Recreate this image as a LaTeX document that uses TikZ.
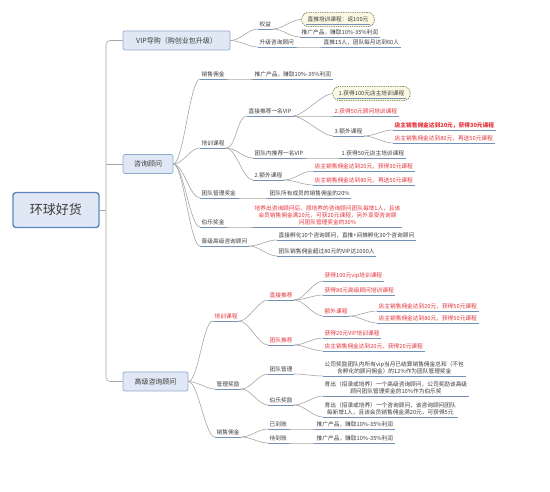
\documentclass[tikz,border=0pt]{standalone}
\usepackage{fontspec}
\setmainfont{Noto Sans CJK SC}
\usetikzlibrary{calc}
\definecolor{boxfill}{HTML}{DFE8F4}
\definecolor{boxline}{HTML}{93ABCB}
\definecolor{rootline}{HTML}{5F86BF}
\definecolor{txtgray}{HTML}{3C3C3C}
\definecolor{hotred}{HTML}{E5323B}
\definecolor{ulblue}{HTML}{7491B8}
\definecolor{linkgray}{HTML}{A6A6A6}
\definecolor{notefill}{HTML}{FBF9E4}
\definecolor{noteline}{HTML}{5D6B3A}
\tikzset{
  link/.style={draw=linkgray,line width=.6pt},
  uline/.style={draw=ulblue,line width=.8pt},
  root/.style={draw=rootline,line width=1.4pt,fill=boxfill,rounded corners=3pt,text=txtgray,
    font=\fontsize{13}{15}\selectfont,minimum width=86pt,minimum height=35pt},
  topic/.style={draw=boxline,line width=.7pt,fill=boxfill,rounded corners=2pt,text=txtgray,
    font=\fontsize{7}{8}\selectfont,minimum height=19pt,inner xsep=4pt},
  item/.style={anchor=south west,inner xsep=1.5pt,inner ysep=1.8pt,text=txtgray,
    font=\fontsize{5.7}{7.2}\selectfont,
    append after command={(\tikzlastnode.south west) edge[uline] (\tikzlastnode.south east)}},
  hot/.style={item,text=hotred},
  note/.style={draw=noteline,line width=.6pt,dash pattern=on 1.3pt off 1pt,fill=notefill,
    rounded corners=7pt,text=txtgray,font=\fontsize{5.7}{7.2}\selectfont,inner xsep=6pt,inner ysep=4.5pt,
    append after command={([shift={(5pt,3pt)}]\tikzlastnode.south west) edge[uline] ([shift={(-5pt,3pt)}]\tikzlastnode.south east)}}
}
\begin{document}
\begin{tikzpicture}[x=1pt,y=-1pt]
\fill[white] (0,0) rectangle (550,492);
\useasboundingbox (0,0) rectangle (550,492);
\node[root] (root) at (56,210) {环球好货};
\node[topic,minimum width=107pt] (vip) at (176.5,40.5) {VIP导购（购创业包升级）};
\node[topic,minimum width=50pt] (zx) at (148,164) {咨询顾问};
\node[topic,minimum width=65pt] (gj) at (155.5,381.5) {高级咨询顾问};
\coordinate (hub) at (106,210);
\draw[link] (root.east) -- (hub);
\draw[link,rounded corners=4pt] (vip.west) -| (hub) |- (gj.west);
\draw[link] (hub |- zx.west) -- (zx.west);

\node[item] (qy) at (258,29) {权益};
\node[item] (sj) at (258,47) {升级咨询顾问};
\node[note] (qy1) at (338,19.5) {直推培训课程：返100元};
\node[item] (qy2) at (300,37) {推广产品，赚取10\%-35\%利润};
\node[item] (sj1) at (322,47) {直推15人，团队每月达到60人};

\node[item] (xs) at (200,79) {销售佣金};
\node[item] (xs1) at (253,79) {推广产品，赚取10\%-35\%利润};
\node[item] (px) at (200,148) {培训课程};
\node[item] (zt) at (247,116) {直接推荐一名VIP};
\node[note] (zt1) at (371.5,93.5) {1.获得100元店主培训课程};
\node[hot] (zt2) at (333,116) {2.获得50元顾问培训课程};
\node[item] (zt3) at (333,136) {3.额外课程};
\node[hot,font=\fontsize{5.7}{7.2}\selectfont\bfseries] (zt31) at (393,130) {店主销售佣金达到20元，获得30元课程};
\node[hot] (zt32) at (393,143) {店主销售佣金达到80元，再送50元课程};
\node[item] (tn) at (253,158) {团队内推荐一名VIP};
\node[item] (tn1) at (340,158) {1.获得50元店主培训课程};
\node[item] (ew) at (253,180) {2.额外课程};
\node[hot] (ew1) at (313,171) {店主销售佣金达到20元，获得30元课程};
\node[hot] (ew2) at (313,185) {店主销售佣金达到80元，再送50元课程};
\node[item] (gl) at (200,198) {团队管理奖金};
\node[item] (gl1) at (268,198) {团队所有成员的销售佣金的20\%};
\node[item] (bl) at (200,227) {伯乐奖金};
\node[hot,align=center] (bl1) at (253,227) {培养出咨询顾问后，原培养的咨询顾问团队每增1人，且该\\会员销售佣金满20元，可获20元课程，另外享受咨询顾\\问团队管理奖金的30\%};
\node[item] (jj) at (200,246) {晋级高级咨询顾问};
\node[item] (jj1) at (277,240) {直接孵化10个咨询顾问，直推+间推孵化30个咨询顾问};
\node[item] (jj2) at (277,256) {团队销售佣金超过80元的VIP达1000人};

\node[hot] (apx) at (213,321) {培训课程};
\node[hot] (azt) at (268,300) {直接推荐};
\node[hot] (azt1) at (323,281) {获得100元vip培训课程};
\node[hot] (azt2) at (323,295) {获得80元高级顾问培训课程};
\node[hot] (azt3) at (323,316) {额外课程};
\node[hot] (azt31) at (377,311) {店主销售佣金达到20元，获得50元课程};
\node[hot] (azt32) at (377,323) {店主销售佣金达到80元，获得50元课程};
\node[hot] (atd) at (268,345) {团队推荐};
\node[hot] (atd1) at (323,338) {获得20元VIP培训课程};
\node[hot] (atd2) at (323,351) {店主销售佣金达到20元，获得20元课程};
\node[item] (agl) at (215,389) {管理奖励};
\node[item] (agl1) at (268,374) {团队管理};
\node[item,align=center] (agl11) at (323,376) {公司奖励团队内所有vip当月已结算销售佣金总和（不包\\含孵化的顾问佣金）的12\%作为团队管理奖金};
\node[item] (abl) at (268,405) {伯乐奖励};
\node[item,align=center] (abl1) at (323,396) {育出（招录或培养）一个高级咨询顾问，公司奖励该高级\\顾问团队管理奖金的10\%作为伯乐奖};
\node[item,align=center] (abl2) at (323,417) {育出（招录或培养）一个咨询顾问，该咨询顾问团队\\每新增1人，且该会员销售佣金满20元，可获得5元};
\node[item] (axs) at (215,437) {销售佣金};
\node[item] (ydz) at (268,429) {已到账};
\node[item] (ydz1) at (315,429) {推广产品，赚取10\%-35\%利润};
\node[item] (ddz) at (268,443) {待到账};
\node[item] (ddz1) at (315,443) {推广产品，赚取10\%-35\%利润};

\foreach \a/\b in {vip.east/qy.south west,vip.east/sj.south west,
  qy.south east/qy1.west,qy.south east/qy2.south west,sj.south east/sj1.south west,
  zx.east/xs.south west,zx.east/px.south west,zx.east/gl.south west,zx.east/bl.south west,zx.east/jj.south west,
  xs.south east/xs1.south west,
  px.south east/zt.south west,px.south east/tn.south west,px.south east/ew.south west,
  zt.south east/zt1.west,zt.south east/zt2.south west,zt.south east/zt3.south west,
  zt3.south east/zt31.south west,zt3.south east/zt32.south west,
  tn.south east/tn1.south west,ew.south east/ew1.south west,ew.south east/ew2.south west,
  gl.south east/gl1.south west,bl.south east/bl1.south west,
  jj.south east/jj1.south west,jj.south east/jj2.south west,
  gj.east/apx.south west,gj.east/agl.south west,gj.east/axs.south west,
  apx.south east/azt.south west,apx.south east/atd.south west,
  azt.south east/azt1.south west,azt.south east/azt2.south west,azt.south east/azt3.south west,
  azt3.south east/azt31.south west,azt3.south east/azt32.south west,
  atd.south east/atd1.south west,atd.south east/atd2.south west,
  agl.south east/agl1.south west,agl.south east/abl.south west,agl1.south east/agl11.south west,
  abl.south east/abl1.south west,abl.south east/abl2.south west,
  axs.south east/ydz.south west,axs.south east/ddz.south west,
  ydz.south east/ydz1.south west,ddz.south east/ddz1.south west}
  \draw[link] (\a) .. controls +(10,0) and +(-10,0) .. (\b);
\end{tikzpicture}
\end{document}
